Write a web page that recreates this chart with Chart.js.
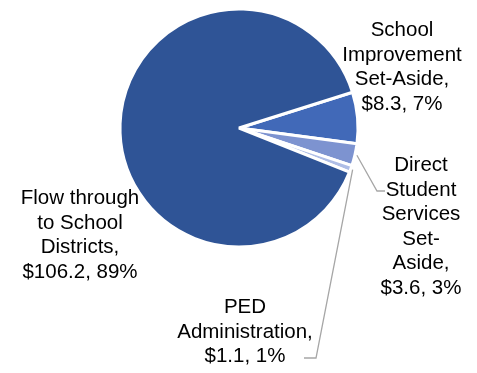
<!DOCTYPE html>
<html>
<head>
<meta charset="utf-8">
<script src="https://cdn.jsdelivr.net/npm/chart.js@4.4.1/dist/chart.umd.min.js"></script>
<style>
  html, body { margin: 0; padding: 0; background: #fff; }
  #wrap { width: 477px; height: 373px; position: relative; }
</style>
</head>
<body>
<div id="wrap"><canvas id="pieChart" width="477" height="373"></canvas></div>
<script>
// values in $ millions
const categories = ['School Improvement Set-Aside', 'Direct Student Services Set-Aside', 'PED Administration', 'Flow through to School Districts'];
const amounts = [8.3, 3.6, 1.1, 106.2];
const percents = [7, 3, 1, 89];
const labelLines = [
    ['School', 'Improvement', 'Set-Aside,'],
    ['Direct', 'Student', 'Services', 'Set-', 'Aside,'],
    ['PED', 'Administration,'],
    ['Flow through', 'to School', 'Districts,']
];
const sliceColors = ['#4169b8', '#7d93d0', '#aebde6', '#2f5496'];

// where each label block sits (center x, first baseline y) and optional leader end
const labelPlaces = [
    { x: 402, y: 36 },
    { x: 421, y: 171, leader: [[377, 191], [385, 191]] },
    { x: 245, y: 313, leader: [[316, 358], [304, 358]] },
    { x: 80, y: 204 }
];

const outsideLabels = {
    id: 'outsideLabels',
    afterDatasetsDraw(chart) {
        const ctx = chart.ctx;
        const arcs = chart.getDatasetMeta(0).data;
        ctx.save();
        arcs.forEach((arc, i) => {
            const place = labelPlaces[i];
            if (place.leader) {
                const p = arc.getProps(['x', 'y', 'startAngle', 'endAngle', 'outerRadius'], true);
                const mid = (p.startAngle + p.endAngle) / 2;
                const r = p.outerRadius + 2;
                ctx.strokeStyle = '#a6a6a6';
                ctx.lineWidth = 1.3;
                ctx.beginPath();
                ctx.moveTo(p.x + Math.cos(mid) * r, p.y + Math.sin(mid) * r);
                place.leader.forEach((pt) => ctx.lineTo(pt[0], pt[1]));
                ctx.stroke();
            }
            const lines = labelLines[i].concat(['$' + amounts[i].toFixed(1) + ', ' + percents[i] + '%']);
            ctx.fillStyle = '#000';
            ctx.font = '20.5px "Liberation Sans", Arial, sans-serif';
            ctx.textAlign = 'center';
            ctx.textBaseline = 'alphabetic';
            lines.forEach((line, k) => {
                ctx.fillText(line, place.x, place.y + k * 24.5);
            });
        });
        ctx.restore();
    }
};

new Chart(document.getElementById('pieChart'), {
    type: 'pie',
    data: {
        labels: categories,
        datasets: [{
            data: amounts,
            backgroundColor: sliceColors,
            borderColor: '#fff',
            borderWidth: 3
        }]
    },
    options: {
        responsive: false,
        animation: false,
        rotation: 72.5,
        radius: 119,
        layout: { padding: { left: 122, right: 121, top: 11, bottom: 128 } },
        plugins: {
            legend: { display: false },
            tooltip: { enabled: false }
        }
    },
    plugins: [outsideLabels]
});
</script>
</body>
</html>
